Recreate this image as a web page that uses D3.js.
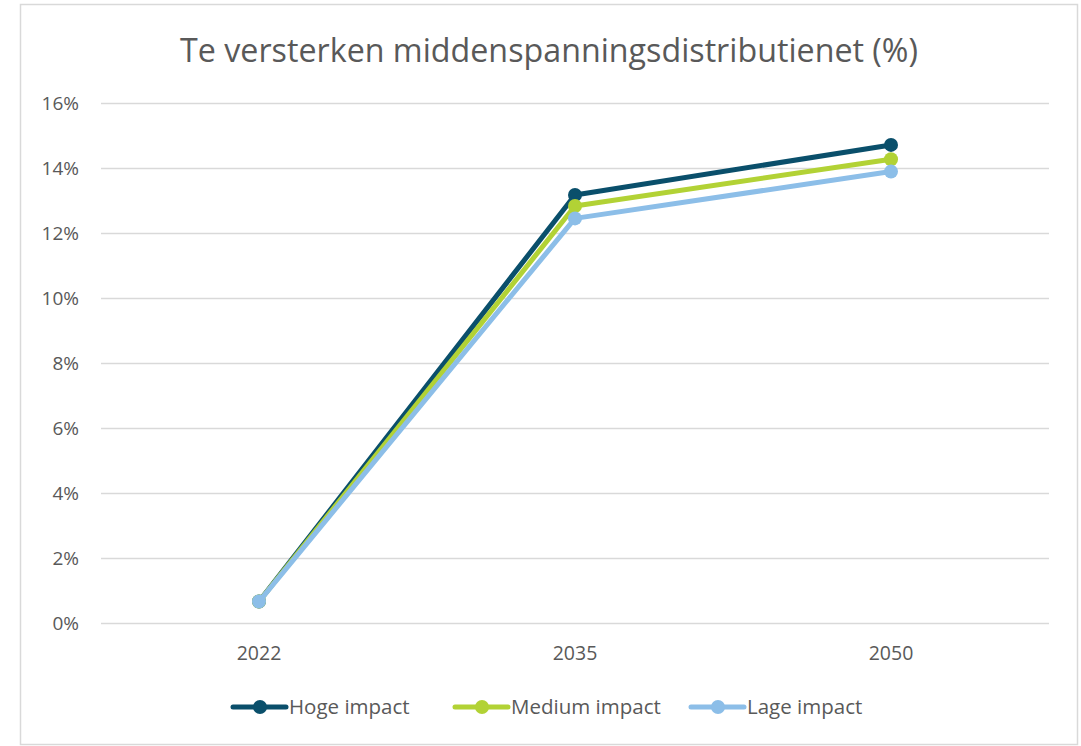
<!DOCTYPE html>
<html><head><meta charset="utf-8">
<script src="https://cdn.jsdelivr.net/npm/d3@7"></script>
<style>body{margin:0;background:#fff}svg{display:block}text{font-family:"Open Sans",sans-serif;fill:#595959}</style>
</head><body>
<svg id="c" width="1081" height="746"></svg>
<script>
const title = "Te versterken middenspanningsdistributienet (%)";
const categories = ["2022", "2035", "2050"];
const seriesNames = ["Hoge impact", "Medium impact", "Lage impact"];
const hoge = [0.66, 13.17, 14.71];
const medium = [0.66, 12.83, 14.27];
const lage = [0.66, 12.45, 13.89];
const yTicks = [0, 2, 4, 6, 8, 10, 12, 14, 16];
const colors = ["#0a4f6b", "#b2d235", "#8cbee8"];

const series = [hoge, medium, lage];
const svg = d3.select("#c");
svg.append("rect").attr("x", 20.5).attr("y", 4.5).attr("width", 1057).attr("height", 740)
  .attr("fill", "#fff").attr("stroke", "#d9d9d9").attr("stroke-width", 1.5);

const L = 101, R = 1049, T = 103, B = 623;
const x = d3.scaleBand().domain(categories).range([L, R]);
const y = d3.scaleLinear().domain([0, 16]).range([B, T]);

svg.append("text").attr("x", 549).attr("y", 62).attr("text-anchor", "middle")
  .style("font-size", "32px").attr("textLength", 738).attr("lengthAdjust", "spacingAndGlyphs").text(title);

const gy = svg.append("g").attr("transform", `translate(${L},0)`)
  .call(d3.axisLeft(y).tickValues(yTicks).tickSize(-(R - L)).tickFormat(d => d + "%").tickPadding(22));
gy.select(".domain").remove();
gy.selectAll("line").attr("stroke", "#d9d9d9").attr("stroke-width", 1.5);
gy.selectAll("text").style("font-size", "19px").attr("fill", "#595959");

const gx = svg.append("g").attr("transform", `translate(0,${B})`)
  .call(d3.axisBottom(x).tickSize(0).tickPadding(23));
gx.select(".domain").remove();
gx.selectAll("text").style("font-size", "19.5px").attr("fill", "#595959");

const line = d3.line().x((d, i) => x(categories[i]) + x.bandwidth() / 2).y(d => y(d));
series.forEach((s, k) => {
  svg.append("path").datum(s).attr("d", line).attr("fill", "none")
    .attr("stroke", colors[k]).attr("stroke-width", 5).attr("stroke-linejoin", "round");
  svg.selectAll(null).data(s).enter().append("circle")
    .attr("cx", (d, i) => x(categories[i]) + x.bandwidth() / 2).attr("cy", d => y(d))
    .attr("r", 7).attr("fill", colors[k]);
});

const legX = [233, 455, 691];
const lg = svg.append("g");
seriesNames.forEach((n, k) => {
  const g = lg.append("g").attr("transform", `translate(${legX[k]},707)`);
  g.append("line").attr("x1", 0).attr("x2", 53).attr("stroke", colors[k]).attr("stroke-width", 5).attr("stroke-linecap", "round");
  g.append("circle").attr("cx", 27).attr("r", 7).attr("fill", colors[k]);
  g.append("text").attr("x", 56).attr("y", 7).style("font-size", "20.5px").text(n);
});
</script>
</body></html>
